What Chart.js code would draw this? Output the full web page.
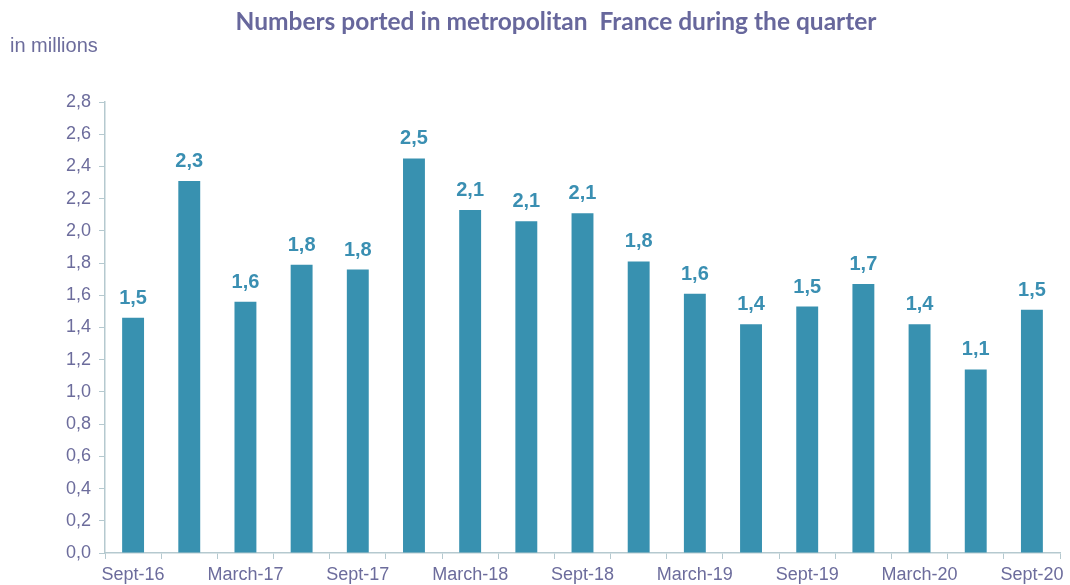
<!DOCTYPE html>
<html>
<head>
<meta charset="utf-8">
<script src="https://cdn.jsdelivr.net/npm/chart.js@4.4.1/dist/chart.umd.min.js"></script>
<style>
  body { margin: 0; background: #fff; }
  #wrap { width: 1070px; height: 585px; position: relative; }
</style>
</head>
<body>
<div id="wrap"><canvas id="graficoPortados"></canvas></div>
<script>
    // dados
    const trimestres = ['Sept-16', 'Dec-16', 'March-17', 'June-17', 'Sept-17', 'Dec-17', 'March-18', 'June-18',
        'Sept-18', 'Dec-18', 'March-19', 'June-19', 'Sept-19', 'Dec-19', 'March-20', 'June-20', 'Sept-20'];
    const portados = [1.46, 2.31, 1.56, 1.79, 1.76, 2.45, 2.13, 2.06, 2.11, 1.81, 1.61, 1.42, 1.53, 1.67, 1.42, 1.14, 1.51];
    const tituloTexto = 'Numbers ported in metropolitan  France during the quarter';
    const unidadeTexto = 'in millions';

    const corBarra = '#3891b0';
    const corTexto = '#6c6c9c';
    const corEixo = '#b5c9cf';

    function virgula(v, casas) {
        return v.toFixed(casas).replace('.', ',');
    }

    // rótulos em cima das barras + título
    var pluginTextos = {
        id: 'textos',
        afterDatasetsDraw(chart) {
            var ctx = chart.ctx;
            var meta = chart.getDatasetMeta(0);
            ctx.save();
            ctx.fillStyle = '#3a8fb2';
            ctx.font = 'bold 20px "Liberation Sans", Arial, sans-serif';
            ctx.textAlign = 'center';
            ctx.textBaseline = 'alphabetic';
            meta.data.forEach(function (bar, i) {
                ctx.fillText(virgula(portados[i], 1), bar.x, bar.y - 14);
            });
            ctx.restore();
        },
        afterDraw(chart) {
            var ctx = chart.ctx;
            ctx.save();
            ctx.fillStyle = '#67679c';
            ctx.font = 'bold 24.5px Lato, "Open Sans", sans-serif';
            ctx.textAlign = 'center';
            ctx.textBaseline = 'middle';
            ctx.fillText(tituloTexto, 556, 22);
            ctx.fillStyle = corTexto;
            ctx.font = '20px "Liberation Sans", Arial, sans-serif';
            ctx.textAlign = 'left';
            ctx.fillText(unidadeTexto, 10, 46);
            ctx.restore();
        }
    };

    var ctxPortados = document.getElementById('graficoPortados').getContext('2d');

    var graficoPortados = new Chart(ctxPortados, {
        type: 'bar',
        data: {
            labels: trimestres,
            datasets: [
                {
                    data: portados,
                    backgroundColor: corBarra,
                    categoryPercentage: 1,
                    barPercentage: 0.39,
                }
            ]
        },
        options: {
            responsive: true,
            maintainAspectRatio: false,
            animation: false,
            layout: {
                padding: { top: 102, right: 10, bottom: 0, left: 0 }
            },
            plugins: {
                legend: { display: false },
                tooltip: { enabled: false },
                title: { display: false }
            },
            scales: {
                y: {
                    min: 0,
                    max: 2.8,
                    afterFit: function (s) { s.width = 105; },
                    border: { color: corEixo, width: 1.5 },
                    grid: {
                        drawOnChartArea: false,
                        drawTicks: true,
                        tickLength: 6,
                        color: corEixo
                    },
                    ticks: {
                        stepSize: 0.2,
                        color: corTexto,
                        padding: 8,
                        font: { family: '"Liberation Sans", Arial, sans-serif', size: 18 },
                        callback: function (v) { return virgula(v, 1); }
                    }
                },
                x: {
                    afterFit: function (s) { s.height = 32; },
                    border: { color: corEixo, width: 1.5 },
                    grid: {
                        offset: true,
                        drawOnChartArea: false,
                        drawTicks: true,
                        tickLength: 6,
                        color: corEixo
                    },
                    ticks: {
                        autoSkip: false,
                        maxRotation: 0,
                        color: corTexto,
                        padding: 5,
                        font: { family: '"Liberation Sans", Arial, sans-serif', size: 18 },
                        callback: function (v, i) { return i % 2 === 0 ? trimestres[i] : ''; }
                    }
                }
            }
        },
        plugins: [pluginTextos]
    });
</script>
</body>
</html>
